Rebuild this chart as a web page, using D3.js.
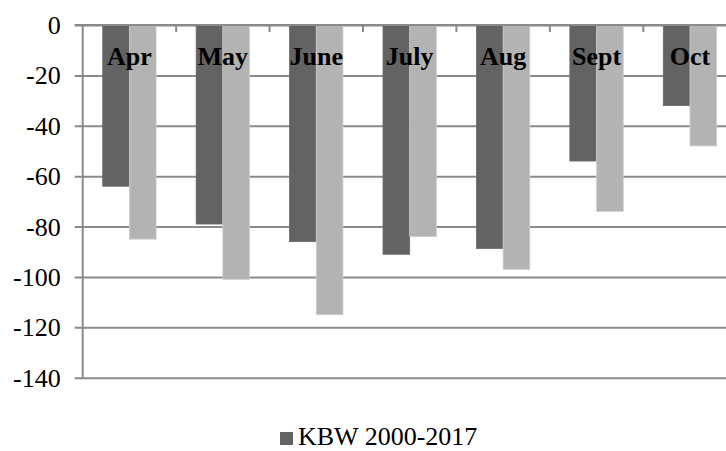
<!DOCTYPE html>
<html>
<head>
<meta charset="utf-8">
<script src="https://cdn.jsdelivr.net/npm/d3@7"></script>
<style>
  html, body { margin: 0; padding: 0; background: #fff; }
  svg { display: block; }
  text { font-family: "Liberation Serif", "Times New Roman", serif; }
</style>
</head>
<body>
<svg id="chart" width="726" height="451"></svg>
<script>
// Monthly values (negative departures)
const months = ["Apr", "May", "June", "July", "Aug", "Sept", "Oct"];
const kbwValues = [-64, -79, -86, -91, -88.7, -54, -32];
const secondValues = [-85, -101, -115, -84, -97, -74, -48];
const yTicks = [0, -20, -40, -60, -80, -100, -120, -140];
const legendLabels = ["KBW 2000-2017"];

const seriesKeys = ["kbw", "second"];
const seriesColors = { kbw: "#636363", second: "#b3b3b3" };
const seriesStroke = { kbw: "#6a6a6a", second: "#cfcfcf" };

const rows = months.map((m, i) => ({ month: m, kbw: kbwValues[i], second: secondValues[i] }));

const svg = d3.select("#chart");
const plotLeft = 82.7, plotRight = 736.7, plotTop = 25, plotBottom = 377.7;
const gridColor = "#8a8a8a";

const x0 = d3.scaleBand().domain(months).range([plotLeft, plotRight])
  .paddingInner(0.4286).paddingOuter(0.2143);
const x1 = d3.scaleBand().domain(seriesKeys).range([0, x0.bandwidth()]).padding(0);
const y = d3.scaleLinear().domain([-140, 0]).range([plotBottom, plotTop]);

// Horizontal gridlines with left tick marks; labels use a plain hyphen
const yAxis = d3.axisLeft(y).tickValues(yTicks).tickSize(-(plotRight - plotLeft)).tickSizeOuter(0)
  .tickFormat(d => String(d));
const gy = svg.append("g").attr("transform", `translate(${plotLeft},0)`).call(yAxis);
gy.select(".domain").remove();
gy.selectAll(".tick line").attr("stroke", gridColor).attr("stroke-width", 2).attr("x1", -8);
gy.selectAll(".tick text")
  .attr("x", -22).attr("dy", "0.33em")
  .attr("fill", "#000").style("font-size", "26px")
  .style("font-family", "'Liberation Serif', 'Times New Roman', serif");

// Vertical axis line
svg.append("line")
  .attr("x1", plotLeft).attr("x2", plotLeft).attr("y1", plotTop).attr("y2", plotBottom)
  .attr("stroke", gridColor).attr("stroke-width", 2);

// Bars
const groups = svg.append("g").selectAll("g").data(rows).join("g")
  .attr("transform", d => `translate(${x0(d.month)},0)`);
groups.selectAll("rect")
  .data(d => seriesKeys.map(k => ({ key: k, value: d[k] })))
  .join("rect")
  .attr("x", d => x1(d.key))
  .attr("width", x1.bandwidth())
  .attr("y", y(0))
  .attr("height", d => y(d.value) - y(0))
  .attr("fill", d => seriesColors[d.key])
  .attr("stroke", d => seriesStroke[d.key])
  .attr("stroke-width", 0.8);

// Category axis at zero with tick marks pointing down between categories
const catStarts = months.map((m, i) => plotLeft + i * x0.step());
svg.append("g").selectAll("line").data(catStarts.slice(1)).join("line")
  .attr("x1", d => d).attr("x2", d => d)
  .attr("y1", y(0)).attr("y2", y(0) + 7)
  .attr("stroke", gridColor).attr("stroke-width", 2);
svg.append("line")
  .attr("x1", plotLeft - 8).attr("x2", 726).attr("y1", y(0)).attr("y2", y(0))
  .attr("stroke", gridColor).attr("stroke-width", 2);

// Month labels centred in each category
svg.append("g").selectAll("text").data(months).join("text")
  .attr("x", d => x0(d) + x0.bandwidth() / 2)
  .attr("y", y(0) + 40)
  .attr("text-anchor", "middle")
  .style("font-size", "26px").style("font-weight", "bold")
  .attr("fill", "#000")
  .text(d => d);

// Legend
const lg = svg.append("g").attr("transform", "translate(280,432)");
legendLabels.forEach((label, i) => {
  lg.append("rect").attr("x", 0).attr("y", 0).attr("width", 13).attr("height", 13)
    .attr("fill", seriesColors[seriesKeys[i]]);
  lg.append("text").attr("x", 18).attr("y", 13)
    .style("font-size", "26px").attr("fill", "#000").text(label);
});
</script>
</body>
</html>
